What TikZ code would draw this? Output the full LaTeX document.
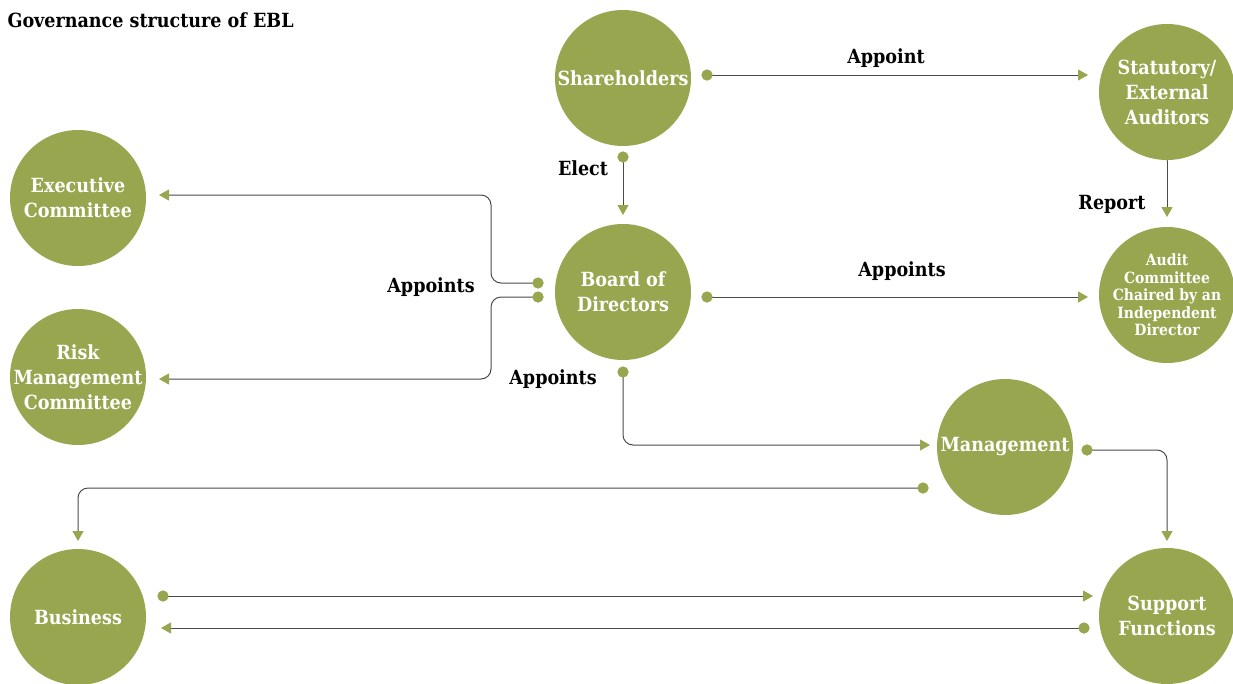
\documentclass[tikz,border=0pt]{standalone}
\usepackage{fontspec}
\setmainfont{DejaVu Serif}[FakeStretch=0.9]
\usetikzlibrary{arrows.meta}
\definecolor{eg}{HTML}{98A64F}
\definecolor{ln}{HTML}{4A4A4A}
\tikzset{
  unit/.style={circle, fill=eg, minimum size=136, inner sep=0},
  utext/.style={inner sep=0, text=white, align=center, font=\bfseries\fontsize{19.5}{25}\selectfont},
  smalltext/.style={utext, font=\bfseries\fontsize{15.5}{17.5}\selectfont},
  lab/.style={anchor=base, text=black, font=\bfseries\fontsize{19.5}{22}\selectfont},
  dotnode/.style={circle, fill=eg, minimum size=11, inner sep=0},
  conn/.style={draw=ln, line width=1pt, rounded corners=10, -{Triangle[length=10,width=11,color=eg]}}
}
\begin{document}
\begin{tikzpicture}[x=1pt,y=-1pt]
\useasboundingbox (0,0) rectangle (1233,683);
\node[anchor=base west, font=\bfseries\fontsize{19.5}{22}\selectfont] (title) at (4,27) {Governance structure of EBL};
% units
\node[unit] (sh) at (623,78) {};
\node[unit] (sa) at (1167,92) {};
\node[unit] (ex) at (78,198) {};
\node[unit] (rm) at (78,377) {};
\node[unit] (bd) at (623,292) {};
\node[unit] (ac) at (1167,295) {};
\node[unit] (mg) at (1005,447) {};
\node[unit] (bu) at (78,617) {};
\node[unit] (sf) at (1167,616) {};
\node[utext] (tsh) at (sh) {Shareholders};
\node[utext] (tsa) at (sa) {Statutory/\\External\\Auditors};
\node[utext] (tex) at (ex) {Executive\\Committee};
\node[utext] (trm) at (rm) {Risk\\Management\\Committee};
\node[utext] (tbd) at (bd) {Board of\\Directors};
\node[smalltext] (tac) at (ac) {Audit\\Committee\\Chaired by an\\Independent\\Director};
\node[utext] (tmg) at (mg) {Management};
\node[utext] (tbu) at (bu) {Business};
\node[utext] (tsf) at (sf) {Support\\Functions};
% end points
\coordinate (e1) at (1088,75);
\coordinate (e2) at (623,215);
\coordinate (e3) at (1167,217);
\coordinate (e4) at (159,195);
\coordinate (e5) at (159,379);
\coordinate (e6) at (1088,297);
\coordinate (e7) at (930,445);
\coordinate (e8) at (78,541);
\coordinate (e9) at (1167,541);
\coordinate (e10) at (1093,596);
\coordinate (e11) at (161,628);
% connectors
\draw[conn] (707,75) node[dotnode] (d1) {} (d1.center) -- (e1);
\draw[conn] (623,157) node[dotnode] (d2) {} (d2.center) -- (e2);
\draw[conn] (1167,155) node[dotnode] (d3) {} (d3.center) -- (e3);
\draw[conn] (538,283) node[dotnode] (d4) {} (d4.center) -- (491,283) -- (491,195) -- (e4);
\draw[conn] (538,297) node[dotnode] (d5) {} (d5.center) -- (491,297) -- (491,379) -- (e5);
\draw[conn] (707,297) node[dotnode] (d6) {} (d6.center) -- (e6);
\draw[conn] (623,372) node[dotnode] (d7) {} (d7.center) -- (623,445) -- (e7);
\draw[conn] (923,488) node[dotnode] (d8) {} (d8.center) -- (78,488) -- (e8);
\draw[conn] (1087,450) node[dotnode] (d9) {} (d9.center) -- (1167,450) -- (e9);
\draw[conn] (163,596) node[dotnode] (d10) {} (d10.center) -- (e10);
\draw[conn] (1084,628) node[dotnode] (d11) {} (d11.center) -- (e11);
% redraw dots on top
\foreach \d in {d1,d2,d3,d4,d5,d6,d7,d8,d9,d10,d11} \fill[eg] (\d.center) circle (5.5);
% labels
\node[lab] (l1) at (886,63) {Appoint};
\node[lab] (l2) at (583,175) {Elect};
\node[lab] (l3) at (1112,209) {Report};
\node[lab] (l4) at (431,292) {Appoints};
\node[lab] (l5) at (902,276) {Appoints};
\node[lab] (l6) at (553,384) {Appoints};
\end{tikzpicture}
\end{document}
